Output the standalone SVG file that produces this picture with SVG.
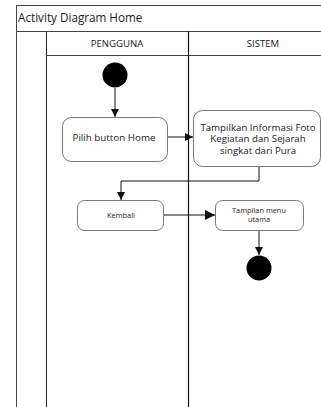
<svg xmlns="http://www.w3.org/2000/svg" width="321" height="407" viewBox="0 0 321 407">
<style>
.frame{fill:none;stroke:#444;stroke-width:1}
.box{fill:#fff;stroke:#555;stroke-width:0.8}
.t{font-family:"Open Sans","DejaVu Sans",sans-serif;fill:#222;text-anchor:middle}
.ln{fill:none;stroke:#111;stroke-width:1}
</style>
<defs>
<marker id="ah" viewBox="0 0 10 10" refX="10" refY="5" markerWidth="8" markerHeight="8" markerUnits="userSpaceOnUse" orient="auto">
<path d="M0,0L10,5L0,10z" fill="#111"/>
</marker>
<marker id="ah2" viewBox="0 0 10 10" refX="10" refY="5" markerWidth="10" markerHeight="10" markerUnits="userSpaceOnUse" orient="auto">
<path d="M0,0L10,5L0,10z" fill="#111"/>
</marker>
<linearGradient id="bg" x1="0" y1="0" x2="1" y2="1">
<stop offset="0" stop-color="#f0f0f0"/>
<stop offset="0.5" stop-color="#fbfbfb"/>
<stop offset="1" stop-color="#ffffff"/>
</linearGradient>
</defs>
<rect x="0" y="0" width="321" height="407" fill="#fff"/>
<g id="frame">
<rect x="16.5" y="5.5" width="310" height="410" fill="url(#bg)" class="frame"/>
<line x1="16.5" y1="31.5" x2="321" y2="31.5" class="frame"/>
<line x1="46.5" y1="31.5" x2="46.5" y2="407" stroke="#222" stroke-width="1"/>
<line x1="46.5" y1="55.5" x2="321" y2="55.5" class="frame"/>
<line x1="188.5" y1="31.5" x2="188.5" y2="407" stroke="#111" stroke-width="1.2"/>
<text x="18" y="22" font-family="'Open Sans','DejaVu Sans',sans-serif" font-size="11.7" fill="#222">Activity Diagram Home</text>
<text x="117" y="46.5" class="t" font-size="9.6">PENGGUNA</text>
<text x="263" y="46.5" class="t" font-size="9.6">SISTEM</text>
</g>
<g id="connectors">
<line x1="115" y1="88" x2="115" y2="117" class="ln" marker-end="url(#ah)"/>
<line x1="168" y1="137" x2="193" y2="137" class="ln" marker-end="url(#ah)"/>
<polyline points="259,167 259,181 121,181 121,200" class="ln" marker-end="url(#ah)"/>
<line x1="164" y1="215" x2="215" y2="215" class="ln" marker-end="url(#ah2)"/>
<line x1="259" y1="230" x2="259" y2="255" class="ln" marker-end="url(#ah)"/>
</g>
<g id="start"><circle cx="115" cy="75" r="12.5" fill="#000"/></g>
<g id="pilih">
<rect x="62.5" y="117.5" width="105" height="44" rx="9" class="box"/>
<text x="114" y="140.5" class="t" font-size="9.8">Pilih button Home</text>
</g>
<g id="tampilkan">
<rect x="193.5" y="110.5" width="127" height="56" rx="9" class="box"/>
<text x="258" y="130.5" class="t" font-size="9.7">Tampilkan Informasi Foto</text>
<text x="258" y="142" class="t" font-size="9.7">Kegiatan dan Sejarah</text>
<text x="258" y="153.5" class="t" font-size="9.7">singkat dari Pura</text>
</g>
<g id="kembali">
<rect x="77.5" y="200.5" width="86" height="30" rx="7" class="box"/>
<text x="121" y="217.5" class="t" font-size="7.4">Kembali</text>
</g>
<g id="tampilan">
<rect x="215.5" y="200.5" width="88" height="30" rx="7" class="box"/>
<text x="259" y="213" class="t" font-size="7.4">Tampilan menu</text>
<text x="259" y="222" class="t" font-size="7.4">utama</text>
</g>
<g id="end"><circle cx="259" cy="268" r="12.5" fill="#000"/></g>
</svg>
